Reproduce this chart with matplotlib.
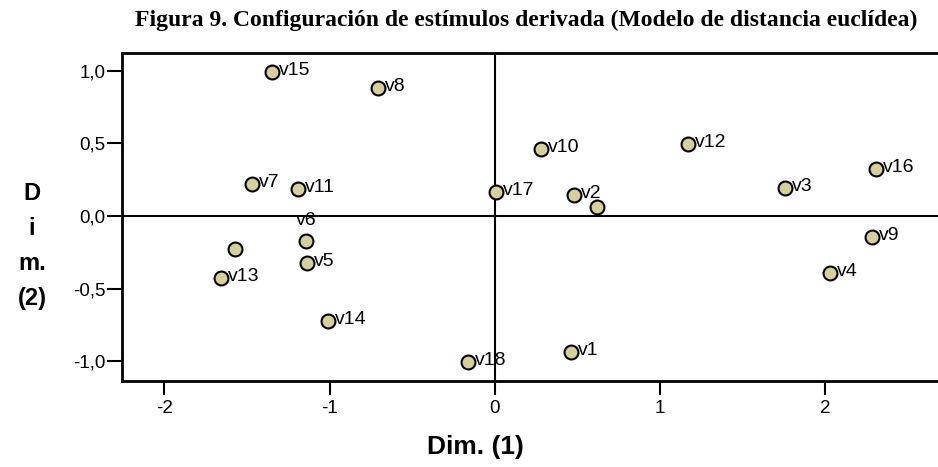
import matplotlib
matplotlib.use("Agg")
import matplotlib.pyplot as plt

labels = ["v15", "v8", "v7", "v11", "v17", "v10", "v2", "", "v12", "v3",
          "v16", "v9", "v4", "v6", "", "v5", "v13", "v14", "v18", "v1"]
dim1 = [-1.347, -0.706, -1.469, -1.191, 0.008, 0.280, 0.480, 0.619, 1.170, 1.754,
        2.305, 2.283, 2.030, -1.142, -1.572, -1.136, -1.656, -1.009, -0.162, 0.462]
dim2 = [0.991, 0.881, 0.220, 0.186, 0.165, 0.461, 0.145, 0.062, 0.496, 0.193,
        0.323, -0.145, -0.392, -0.172, -0.227, -0.323, -0.427, -0.723, -1.005, -0.936]
xticks = [-2, -1, 0, 1, 2]
yticks = [-1.0, -0.5, 0.0, 0.5, 1.0]
ytick_labels = ["-1,0", "-0,5", "0,0", "0,5", "1,0"]
title = "Figura 9. Configuración de estímulos derivada (Modelo de distancia euclídea)"

plt.rcParams['font.family'] = ['Liberation Sans', 'DejaVu Sans']

fig = plt.figure(figsize=(9.38, 4.67), dpi=100)
ax = fig.add_axes([122/938, 86/467, 816/938, 328/467])
ax.set_xlim(-2.256, 2.683)
ax.set_ylim(-1.136, 1.122)

ax.axhline(0, color='black', lw=1.5, zorder=1)
ax.axvline(0, color='black', lw=1.5, zorder=1)

ax.plot(dim1, dim2, linestyle='none', marker='o', ms=10, mfc='#d6d09e',
        mec='black', mew=1.5, zorder=3)

for x, y, lab in zip(dim1, dim2, labels):
    if not lab:
        continue
    if lab == "v6":
        ax.annotate(lab, (x, y), xytext=(0, 15), textcoords='offset points',
                    ha='center', va='center', fontsize=14, zorder=4)
    else:
        ax.annotate(lab, (x, y), xytext=(5, 1), textcoords='offset points',
                    ha='left', va='center', fontsize=14, zorder=4)

ax.set_xticks(xticks)
ax.set_xticklabels([str(t) for t in xticks], fontsize=13.5)
ax.set_yticks(yticks)
ax.set_yticklabels(ytick_labels, fontsize=13.5)
ax.tick_params(axis='x', direction='out', length=10, width=1.5, pad=4)
ax.tick_params(axis='y', direction='out', length=11, width=1.5, pad=1)

for s in ['left', 'bottom', 'top']:
    ax.spines[s].set_linewidth(2)
ax.spines['right'].set_visible(False)

fig.text(526/938, 1 - 20/467, title, ha='center', va='center',
         fontsize=17, fontweight='bold', family=['Liberation Serif', 'DejaVu Serif'])
fig.text(475/938, 1 - 447/467, "Dim. (1)", ha='center', va='center',
         fontsize=19, fontweight='bold')
fig.text(32/938, 1 - 246/467, "D\ni\nm.\n(2)", ha='center', va='center',
         fontsize=17, fontweight='bold', linespacing=1.68, multialignment='center')

fig.savefig("out.png", dpi=100)
